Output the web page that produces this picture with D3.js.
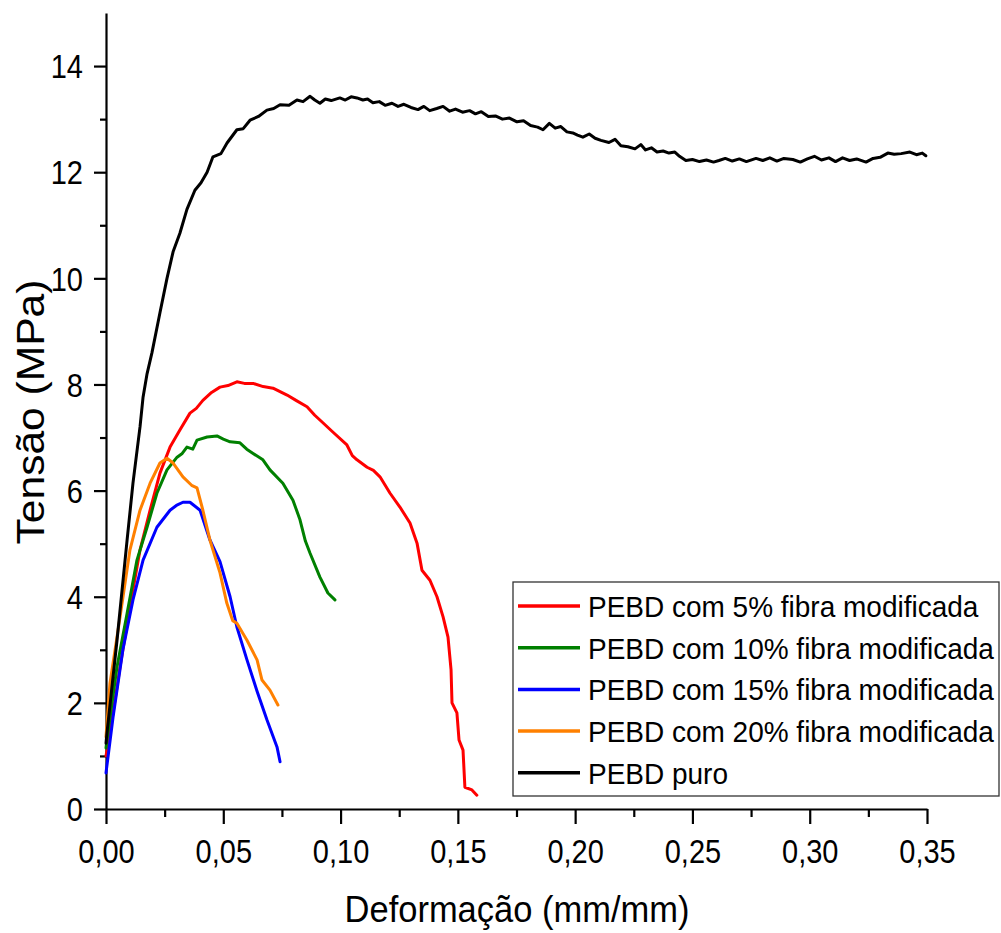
<!DOCTYPE html>
<html>
<head>
<meta charset="utf-8">
<script src="https://cdn.jsdelivr.net/npm/d3@7"></script>
<style>
  html, body { margin: 0; padding: 0; background: #fff; }
  svg { display: block; }
  text { font-family: "Liberation Sans", Arial, Helvetica, sans-serif; fill: #000; }
</style>
</head>
<body>
<svg id="chart" width="1001" height="933"></svg>
<script>
// ---- DATA (strain mm/mm, stress MPa) ----
const seriesNames = [
  "PEBD com 5% fibra modificada",
  "PEBD com 10% fibra modificada",
  "PEBD com 15% fibra modificada",
  "PEBD com 20% fibra modificada",
  "PEBD puro"
];
const seriesColors = ["#ff0000", "#008000", "#0000ff", "#ff8000", "#000000"];

const fibra5 = [
  [0,1.0],[0.0017,1.43],[0.0060,2.68],[0.0102,3.8],[0.0145,4.88],[0.0188,5.63],[0.0230,6.33],
  [0.0273,6.82],[0.0315,7.14],[0.0358,7.46],[0.0385,7.55],[0.0413,7.7],[0.0450,7.85],[0.0486,7.95],
  [0.0520,7.98],[0.0558,8.05],[0.0590,8.02],[0.0627,8.02],[0.0670,7.96],[0.0712,7.93],[0.0772,7.8],
  [0.0810,7.70],[0.0857,7.58],[0.0890,7.42],[0.0912,7.33],[0.0968,7.1],[0.1027,6.86],[0.1050,6.66],
  [0.1070,6.58],[0.1113,6.44],[0.1140,6.38],[0.1168,6.26],[0.1211,5.95],[0.1253,5.69],[0.1296,5.39],
  [0.1326,5.01],[0.1347,4.5],[0.1381,4.31],[0.1411,4.0],[0.1437,3.62],[0.1458,3.24],[0.1471,2.62],
  [0.1475,2.0],[0.1496,1.81],[0.1505,1.3],[0.1522,1.11],[0.1530,0.41],[0.1560,0.36],[0.1581,0.26]
];
const fibra10 = [
  [0,1.15],[0.0004,1.3],[0.0047,2.68],[0.0090,3.69],[0.0132,4.69],[0.0175,5.31],[0.0217,5.95],
  [0.0260,6.39],[0.0303,6.63],[0.0325,6.70],[0.0345,6.82],[0.0370,6.78],[0.0388,6.95],[0.0431,7.01],
  [0.0473,7.03],[0.0500,6.97],[0.0529,6.92],[0.0571,6.9],[0.0600,6.78],[0.0627,6.7],[0.0669,6.58],
  [0.0699,6.39],[0.0754,6.14],[0.0797,5.82],[0.0827,5.45],[0.0850,5.05],[0.0870,4.82],[0.0912,4.37],
  [0.0946,4.07],[0.0976,3.94]
];
const fibra15 = [
  [0,0.68],[0.0030,1.73],[0.0072,3.0],[0.0115,3.94],[0.0158,4.69],[0.0217,5.31],[0.0273,5.63],
  [0.0300,5.72],[0.0328,5.78],[0.0358,5.78],[0.0401,5.63],[0.0443,5.07],[0.0486,4.66],[0.0529,4.0],
  [0.0558,3.43],[0.0601,2.81],[0.0644,2.22],[0.0686,1.68],[0.0729,1.17],[0.0742,0.89]
];
const fibra20 = [
  [0,1.36],[0.0017,2.37],[0.0060,3.62],[0.0102,4.88],[0.0145,5.63],[0.0188,6.14],[0.0230,6.52],
  [0.0260,6.61],[0.0286,6.52],[0.0328,6.26],[0.0365,6.10],[0.0388,6.05],[0.0413,5.63],[0.0443,5.07],
  [0.0486,4.45],[0.0515,3.88],[0.0540,3.55],[0.0558,3.5],[0.0601,3.18],[0.0644,2.81],[0.0665,2.43],
  [0.0699,2.24],[0.0733,1.96]
];
const puro = [
  [0,1.24],[0.0004,1.43],[0.0047,3.18],[0.0090,5.07],[0.0115,6.14],[0.0145,7.2],[0.0158,7.76],
  [0.0175,8.2],[0.0196,8.6],[0.0230,9.35],[0.0260,10.0],[0.0286,10.5],[0.0315,10.85],[0.0345,11.3],
  [0.0379,11.66],[0.0405,11.80],[0.0431,12.0],[0.0456,12.29],[0.0490,12.35],[0.0516,12.55],
  [0.0558,12.8],[0.0585,12.82],[0.0614,12.98],[0.0650,13.05],[0.0686,13.17],[0.0715,13.20],
  [0.0742,13.27],[0.0780,13.26],[0.0814,13.36],[0.0840,13.33],[0.0870,13.43],[0.0890,13.36],
  [0.0912,13.30],[0.0935,13.38],[0.0960,13.35],[0.0997,13.40],[0.1020,13.36],[0.1045,13.42],
  [0.1070,13.40],[0.1095,13.36],[0.1115,13.38],[0.1138,13.31],[0.1165,13.33],[0.1190,13.26],
  [0.1219,13.30],[0.1245,13.24],[0.1270,13.28],[0.1300,13.22],[0.1330,13.18],[0.1355,13.24],
  [0.1380,13.16],[0.1410,13.20],[0.1437,13.24],[0.1465,13.15],[0.1490,13.19],[0.1520,13.13],
  [0.1550,13.16],[0.1575,13.10],[0.1600,13.14],[0.1630,13.05],[0.1660,13.06],[0.1690,13.00],
  [0.1720,13.02],[0.1752,12.95],[0.1780,12.97],[0.1810,12.88],[0.1840,12.85],[0.1863,12.80],
  [0.1890,12.92],[0.1915,12.83],[0.1939,12.86],[0.1965,12.76],[0.1990,12.74],[0.2010,12.70],
  [0.2033,12.66],[0.2060,12.72],[0.2085,12.64],[0.2110,12.60],[0.2144,12.56],[0.2170,12.62],
  [0.2195,12.50],[0.2225,12.48],[0.2255,12.44],[0.2280,12.52],[0.2300,12.42],[0.2325,12.46],
  [0.2349,12.38],[0.2375,12.40],[0.2400,12.36],[0.2425,12.38],[0.2445,12.30],[0.2472,12.22],
  [0.2500,12.24],[0.2530,12.20],[0.2560,12.23],[0.2590,12.19],[0.2613,12.22],[0.2640,12.26],
  [0.2670,12.21],[0.2700,12.25],[0.2730,12.20],[0.2771,12.26],[0.2800,12.22],[0.2830,12.27],
  [0.2860,12.21],[0.2890,12.26],[0.2928,12.24],[0.2960,12.19],[0.2990,12.25],[0.3020,12.30],
  [0.3050,12.23],[0.3082,12.27],[0.3110,12.20],[0.3140,12.27],[0.3170,12.22],[0.3200,12.25],
  [0.3240,12.19],[0.3270,12.26],[0.3300,12.28],[0.3333,12.36],[0.3360,12.34],[0.3390,12.35],
  [0.3427,12.38],[0.3455,12.33],[0.3480,12.36],[0.3495,12.31]
];
const seriesData = [fibra5, fibra10, fibra15, fibra20, puro];

const xMajorTicks = [0, 0.05, 0.10, 0.15, 0.20, 0.25, 0.30, 0.35];
const xMinorTicks = [0.025, 0.075, 0.125, 0.175, 0.225, 0.275, 0.325];
const yMajorTicks = [0, 2, 4, 6, 8, 10, 12, 14];
const yMinorTicks = [1, 3, 5, 7, 9, 11, 13];
const xTitle = "Deformação (mm/mm)";
const yTitle = "Tensão (MPa)";

// ---- CHART ----
const svg = d3.select("#chart");
const x = d3.scaleLinear().domain([0, 0.35]).range([106, 927]);
const y = d3.scaleLinear().domain([0, 15]).range([809, 13]);
const fmtX = d => d3.format(".2f")(d).replace(".", ",");

// x axis
const gxMinor = svg.append("g").attr("transform", "translate(0,809)")
  .call(d3.axisBottom(x).tickValues(xMinorTicks).tickSize(8).tickSizeOuter(0).tickFormat(""));
gxMinor.select(".domain").remove();
const gx = svg.append("g").attr("transform", "translate(0,809)")
  .call(d3.axisBottom(x).tickValues(xMajorTicks).tickSize(15).tickSizeOuter(0).tickFormat(fmtX));
gx.selectAll("text")
  .attr("y", null).attr("dy", null)
  .attr("transform", "translate(0,54) scale(1,1.15)")
  .style("font-size", "29px");

// y axis
const gyMinor = svg.append("g").attr("transform", "translate(106,0)")
  .call(d3.axisLeft(y).tickValues(yMinorTicks).tickSize(6).tickSizeOuter(0).tickFormat(""));
gyMinor.select(".domain").remove();
const gy = svg.append("g").attr("transform", "translate(106,0)")
  .call(d3.axisLeft(y).tickValues(yMajorTicks).tickSize(12).tickSizeOuter(0).tickFormat(d => d));
gy.selectAll("text")
  .attr("x", null).attr("dy", null)
  .attr("transform", "translate(-23,11.7) scale(1,1.13)")
  .style("font-size", "29px");

svg.selectAll(".domain, .tick line").attr("stroke", "#000").attr("stroke-width", 2.2);
svg.selectAll(".tick text").attr("fill", "#000");

// curves
const line = d3.line().x(d => x(d[0])).y(d => y(d[1]));
seriesData.forEach((data, i) => {
  svg.append("path")
    .datum(data)
    .attr("d", line)
    .attr("fill", "none")
    .attr("stroke", seriesColors[i])
    .attr("stroke-width", 3)
    .attr("stroke-linejoin", "round")
    .attr("stroke-linecap", "round");
});

// axis titles
svg.append("text")
  .attr("transform", "translate(517,922) scale(1,1.05)")
  .attr("text-anchor", "middle")
  .style("font-size", "34.5px")
  .text(xTitle);
svg.append("text")
  .attr("transform", "translate(44,412) rotate(-90) scale(1.12,1)")
  .attr("text-anchor", "middle")
  .style("font-size", "38px")
  .text(yTitle);

// legend
const lg = svg.append("g");
lg.append("rect")
  .attr("x", 513).attr("y", 582).attr("width", 486).attr("height", 214)
  .attr("fill", "#fff").attr("stroke", "#333").attr("stroke-width", 1.3);
seriesNames.forEach((name, i) => {
  const cy = 606 + i * 41.7;
  lg.append("line")
    .attr("x1", 518).attr("x2", 580).attr("y1", cy).attr("y2", cy)
    .attr("stroke", seriesColors[i]).attr("stroke-width", 3.5);
  lg.append("text")
    .attr("transform", `translate(588,${cy + 11}) scale(1,1.05)`)
    .style("font-size", "28px")
    .text(name);
});
</script>
</body>
</html>
